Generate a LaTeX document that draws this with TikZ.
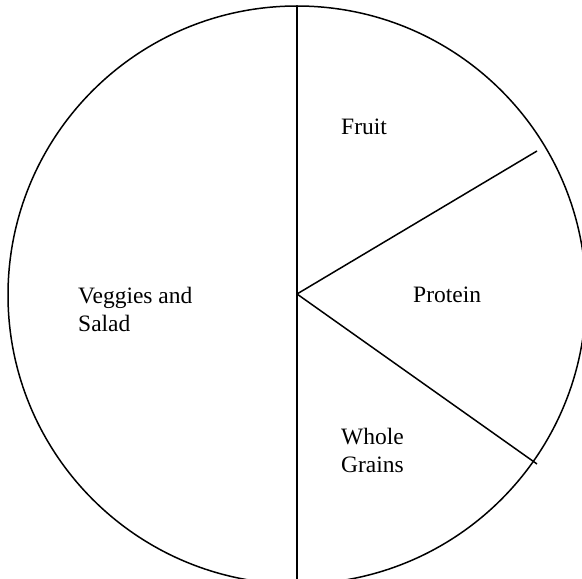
\documentclass[tikz,border=0pt]{standalone}
\usepackage{fontspec}
\setmainfont{Liberation Serif}
\begin{document}
\begin{tikzpicture}[x=1pt,y=1pt,
  edge/.style={line width=1.5pt, black},
  lbl/.style={font=\fontsize{23.5}{28}\selectfont, inner sep=0pt, anchor=base west, align=left}]
\useasboundingbox (0,0) rectangle (582,579);
\clip (0,0) rectangle (582,579);
\coordinate (O) at (297,284);
\coordinate (C) at (297,285);
\coordinate (T) at (297,573);
\coordinate (B) at (297,-5);
\coordinate (U) at (537,428);
\coordinate (L) at (537,115);
\draw[edge] (O) circle (289);
\draw[edge] (T) -- (B);
\draw[edge] (C) -- (U);
\draw[edge] (C) -- (L);
\node[lbl] (fruit) at (341,444) {Fruit};
\node[lbl] (protein) at (413,276) {Protein};
\node[lbl] (grains) at (341,106) {Whole\\Grains};
\node[lbl] (veg) at (78,247) {Veggies and\\Salad};
\end{tikzpicture}
\end{document}
